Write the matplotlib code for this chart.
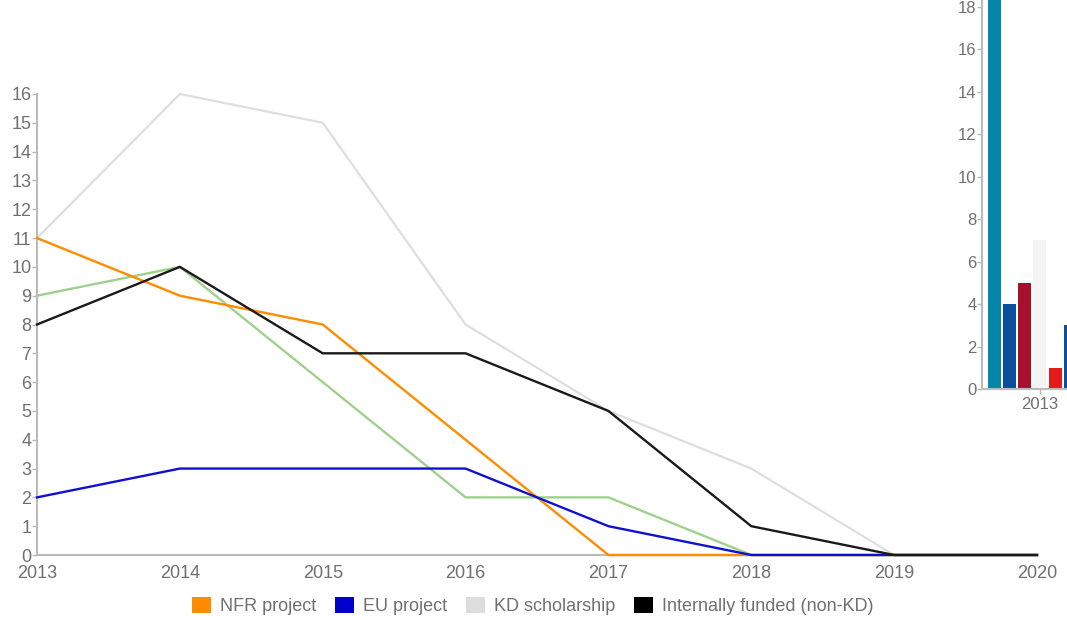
import numpy as np
import matplotlib
matplotlib.use("Agg")
import matplotlib.pyplot as plt
from matplotlib.patches import Patch

plt.rcParams['font.family'] = ['Liberation Sans', 'DejaVu Sans']

# main line chart
years = [2013, 2014, 2015, 2016, 2017, 2018, 2019, 2020]
nfr_project = [11, 9, 8, 4, 0, 0, 0, 0]
eu_project = [2, 3, 3, 3, 1, 0, 0, 0]
kd_scholarship = [11, 16, 15, 8, 5, 3, 0, 0]
internal_non_kd = [8, 10, 7, 7, 5, 1, 0, 0]
other_green = [9, 10, 6, 2, 2, 0, 0, 0]

# partially visible bar chart on the right
bar_years = ["2013"]
bar_values = [20, 4, 5, 7, 1, 3]
bar_colors = ["#0585a8", "#0a4f9c", "#a8102e", "#f4f4f4", "#e51a1a", "#0a4f9c"]

W, H = 1067, 620
fig = plt.figure(figsize=(W / 100, H / 100), dpi=100)
fig.patch.set_facecolor("white")

axis_col = "#bbbbbb"
label_col = "#707070"

ax = fig.add_axes([37 / W, 65 / H, 1000 / W, 461 / H])
ax.plot(years, kd_scholarship, color="#dedede", lw=1.6, clip_on=False, zorder=2)
ax.plot(years, other_green, color="#9ed18c", lw=1.7, clip_on=False, zorder=3)
ax.plot(years, nfr_project, color="#ff8c00", lw=1.7, clip_on=False, zorder=4)
ax.plot(years, eu_project, color="#1010d0", lw=1.7, clip_on=False, zorder=5)
ax.plot(years, internal_non_kd, color="#1a1a1a", lw=1.7, clip_on=False, zorder=6)

ax.set_xlim(2013, 2020)
ax.set_ylim(0, 16)
ax.set_xticks(years)
ax.set_yticks(range(0, 17))
for s in ["top", "right"]:
    ax.spines[s].set_visible(False)
for s in ["left", "bottom"]:
    ax.spines[s].set_color(axis_col)
    ax.spines[s].set_linewidth(1.5)
ax.tick_params(axis="y", length=3.5, width=1, color=axis_col, labelsize=13,
               labelcolor=label_col, pad=0.5)
ax.tick_params(axis="x", length=0, labelsize=13, labelcolor=label_col, pad=7.5)

handles = [Patch(facecolor="#ff8c00", label="NFR project"),
           Patch(facecolor="#0000cc", label="EU project"),
           Patch(facecolor="#dddddd", label="KD scholarship"),
           Patch(facecolor="#000000", label="Internally funded (non-KD)")]
leg = fig.legend(handles=handles, loc="center", bbox_to_anchor=(533 / W, 1 - 606 / H),
                 ncol=4, frameon=False, fontsize=13, handlelength=1.05, handleheight=1.0,
                 handletextpad=0.5, columnspacing=1.05, borderpad=0)
for t in leg.get_texts():
    t.set_color(label_col)

# inset bar chart, cut by the figure edge
ax2 = fig.add_axes([982 / W, 231 / H, 243 / W, 389 / H])
slot = 0.125
offsets = (np.arange(7) - 3) * slot
for i, (v, c) in enumerate(zip(bar_values, bar_colors)):
    ax2.bar(0 + offsets[i], v, width=slot * 0.86, color=c, zorder=2)
ax2.set_xlim(-0.477, 1.523)
ax2.set_ylim(0, 18.33)
ax2.set_xticks([0])
ax2.set_xticklabels(bar_years)
ax2.set_yticks(range(0, 19, 2))
for s in ["top", "right"]:
    ax2.spines[s].set_visible(False)
for s in ["left", "bottom"]:
    ax2.spines[s].set_color(axis_col)
    ax2.spines[s].set_linewidth(1.5)
ax2.tick_params(axis="y", length=3.5, width=1, color=axis_col, labelsize=12,
                labelcolor=label_col, pad=0.5)
ax2.tick_params(axis="x", length=3.5, width=1, color=axis_col, labelsize=12,
                labelcolor=label_col, pad=2)

fig.savefig("out.png", dpi=100)
